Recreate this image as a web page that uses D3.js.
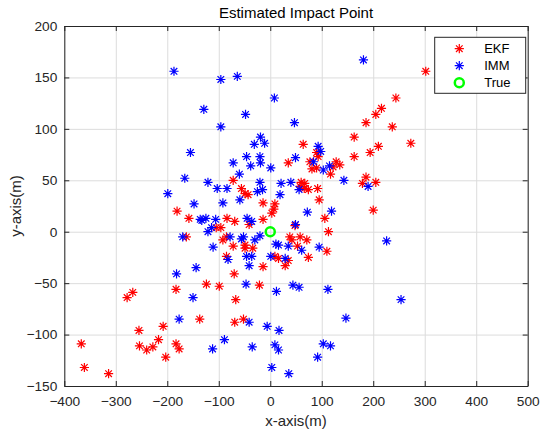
<!DOCTYPE html>
<html>
<head>
<meta charset="utf-8">
<script src="https://cdn.jsdelivr.net/npm/d3@7"></script>
<style>
  body { margin: 0; background: #fff; }
  text { font-family: "Liberation Sans", Arial, sans-serif; }
</style>
</head>
<body>
<script>
// DATA
const ekfPoints = [
    [302,156],[244,130],[216,120],[205,114],[186,106],[237,102],[273,86],[210,83],[194,77],
    [186,53],[179,47],[205,48],[200,21],
    [-14,-34],[29,-33],[-70,-41],[-124,-51],[-99,-53],[-21,-52],[-67,-66],[-137,-85],[-69,-88],[-52,-85],
    [-183,-56],[-267,-59],[-278,-64],[-208,-92],[-255,-96],[-217,-105],[-367,-109],[-254,-111],[-240,-115],
    [-228,-112],[-183,-109],[-177,-114],[-203,-122],[-361,-132],[-314,-138],
    [-181,20],[-158,13],[-163,-5],
    [163,92],[64,85],
    [90,77],[93,73],[163,73],[35,67],[77,68],[128,68],[135,65],[122,63],[81,61],[90,62],[117,56],
    [-72,50],[60,48],[67,47],[-56,42],[-49,37],[-43,36],[58,44],[66,42],[74,41],[92,42],[95,31],
    [-14,28],[9,27],[7,22],[3,18],[-84,13],[-69,10],[-14,12],[106,13],[-96,4],[-105,4],[-41,7],
    [48,6],[113,0],[-85,-5],[-92,-8],[38,-5],[58,-5],[71,-8],[42,-8],[-72,-14],[-49,-13],[-49,-16],
    [-34,-16],[53,-14],[110,-19],[-85,-24],[9,-24],[16,-26],[35,-28],[74,-25]
];

const immPoints = [
    [181,167],[254,-66],[226,-9],[190,44],
    [-41,-33],[-47,-51],[12,-58],[44,-52],[56,-54],[112,-56],[-41,-88],[-6,-92],[17,-96],[147,-84],
    [-89,-105],[-112,-114],[-35,-112],[9,-110],[16,-115],[103,-109],[117,-111],[92,-122],[3,-132],[36,-138],
    [-144,-35],[-182,-41],[-150,-64],[-177,-85],
    [-155,77],[-166,52],[-121,48],[-199,37],[-148,27],[-136,12],[-125,13],[-170,-5],[-121,0],
    [-187,156],[-129,119],
    [-96,148],[-64,151],[8,130],[-48,114],[-96,102],[47,106],[-19,92],[-31,85],[-11,86],[93,83],
    [98,78],[-46,73],[-20,73],[49,72],[-72,67],[-19,67],[84,68],[-38,64],[1,62],[103,60],[115,64],
    [-60,56],[-20,48],[21,47],[40,48],[143,50],[-103,42],[-84,42],[-25,39],[-15,41],[56,41],[19,36],
    [-59,31],[-92,28],[72,19],[119,20],[-45,13],[-36,10],[-133,11],[-106,12],[49,7],[-114,4],
    [-20,-4],[-30,-8],[-78,-5],[-52,-5],[-56,-7],[61,-18],[11,-12],[16,-13],[35,-14],[95,-15],
    [-111,-15],[-82,-27],[-46,-24],[-36,-24],[1,-24],[29,-26]
];

const truePoint = [[0, 0]];

const xTicks = [-400, -300, -200, -100, 0, 100, 200, 300, 400, 500];
const yTicks = [-150, -100, -50, 0, 50, 100, 150, 200];

const legendItems = [
    { name: "EKF", type: "star", color: "#ff0000" },
    { name: "IMM", type: "star", color: "#0000ff" },
    { name: "True", type: "circle", color: "#00ff00" }
];

// SVG SETUP
const W = 540, H = 433;
const plot = { left: 64.3, right: 527.7, top: 26, bottom: 386 };
const axisColor = "#262626";

const svg = d3.select("body").append("svg")
    .attr("width", W)
    .attr("height", H);

// SCALES
const xScale = d3.scaleLinear().domain([-400, 500]).range([plot.left, plot.right]);
const yScale = d3.scaleLinear().domain([-150, 200]).range([plot.bottom, plot.top]);

// GRID
svg.append("g")
    .attr("transform", `translate(0,${plot.bottom})`)
    .call(d3.axisBottom(xScale).tickValues(xTicks).tickSize(-(plot.bottom - plot.top)).tickFormat(""))
    .call(g => g.select(".domain").remove())
    .call(g => g.selectAll("line").attr("stroke", "#dcdcdc"));

svg.append("g")
    .attr("transform", `translate(${plot.left},0)`)
    .call(d3.axisLeft(yScale).tickValues(yTicks).tickSize(-(plot.right - plot.left)).tickFormat(""))
    .call(g => g.select(".domain").remove())
    .call(g => g.selectAll("line").attr("stroke", "#dcdcdc"));

// ASTERISK MARKER (matlab '*')
const r = 4.6, d = 3.3;
const starPath = `M${-r},0H${r}M0,${-r}V${r}M${-d},${-d}L${d},${d}M${-d},${d}L${d},${-d}`;

function drawStars(points, color) {
    svg.append("g").selectAll("path")
        .data(points)
        .enter().append("path")
        .attr("transform", p => `translate(${xScale(p[0])},${yScale(p[1])})`)
        .attr("d", starPath)
        .attr("fill", "none")
        .attr("stroke", color)
        .attr("stroke-width", 1.2);
}

drawStars(ekfPoints, "#ff0000");
drawStars(immPoints, "#0000ff");

svg.append("g").selectAll("circle")
    .data(truePoint)
    .enter().append("circle")
    .attr("cx", p => xScale(p[0]))
    .attr("cy", p => yScale(p[1]))
    .attr("r", 4.5)
    .attr("fill", "none")
    .attr("stroke", "#00ff00")
    .attr("stroke-width", 2.5);

// AXES (box with inward ticks)
function styleAxis(g) {
    g.select(".domain").attr("stroke", axisColor);
    g.selectAll(".tick line").attr("stroke", axisColor);
    g.selectAll("text").attr("fill", axisColor).style("font-size", "13.7px");
}

svg.append("g")
    .attr("transform", `translate(0,${plot.bottom})`)
    .call(d3.axisBottom(xScale).tickValues(xTicks).tickSizeInner(-5).tickSizeOuter(0).tickPadding(10))
    .call(styleAxis);

svg.append("g")
    .attr("transform", `translate(0,${plot.top})`)
    .call(d3.axisTop(xScale).tickValues(xTicks).tickSizeInner(-5).tickSizeOuter(0).tickFormat(""))
    .call(styleAxis);

svg.append("g")
    .attr("transform", `translate(${plot.left},0)`)
    .call(d3.axisLeft(yScale).tickValues(yTicks).tickSizeInner(-5).tickSizeOuter(0).tickPadding(7))
    .call(styleAxis);

svg.append("g")
    .attr("transform", `translate(${plot.right},0)`)
    .call(d3.axisRight(yScale).tickValues(yTicks).tickSizeInner(-5).tickSizeOuter(0).tickFormat(""))
    .call(styleAxis);

// LABELS
const midX = (plot.left + plot.right) / 2;

svg.append("text")
    .attr("x", midX)
    .attr("y", 18)
    .attr("text-anchor", "middle")
    .attr("fill", "#000")
    .style("font-size", "15px")
    .text("Estimated Impact Point");

svg.append("text")
    .attr("x", midX)
    .attr("y", 426)
    .attr("text-anchor", "middle")
    .attr("fill", axisColor)
    .style("font-size", "15px")
    .text("x-axis(m)");

svg.append("text")
    .attr("transform", `translate(21,${(plot.top + plot.bottom) / 2}) rotate(-90)`)
    .attr("text-anchor", "middle")
    .attr("fill", axisColor)
    .style("font-size", "15px")
    .text("y-axis(m)");

// LEGEND
const legend = svg.append("g").attr("transform", "translate(434.7,37.3)");

legend.append("rect")
    .attr("width", 91)
    .attr("height", 56)
    .attr("fill", "#fff")
    .attr("stroke", axisColor);

legendItems.forEach((item, i) => {
    const cy = 11.4 + i * 17;
    if (item.type === "star") {
        legend.append("path")
            .attr("transform", `translate(24.6,${cy})`)
            .attr("d", starPath)
            .attr("fill", "none")
            .attr("stroke", item.color)
            .attr("stroke-width", 1.2);
    } else {
        legend.append("circle")
            .attr("cx", 24.6)
            .attr("cy", cy)
            .attr("r", 4.5)
            .attr("fill", "none")
            .attr("stroke", item.color)
            .attr("stroke-width", 2.5);
    }
    legend.append("text")
        .attr("x", 49.5)
        .attr("y", cy)
        .attr("dy", "0.35em")
        .attr("fill", "#000")
        .style("font-size", "13px")
        .text(item.name);
});
</script>
</body>
</html>
